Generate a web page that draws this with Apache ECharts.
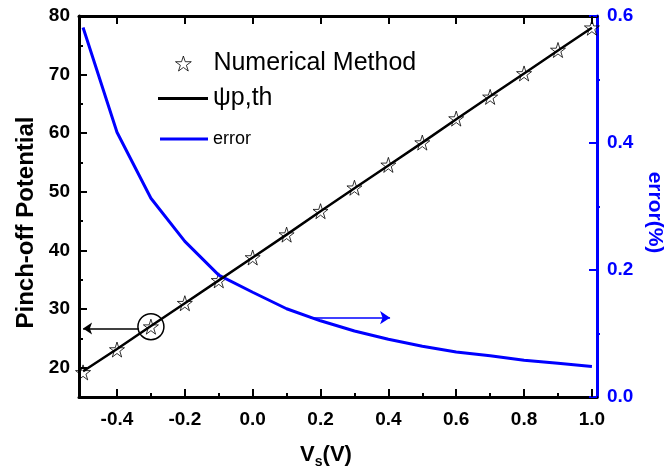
<!DOCTYPE html>
<html>
<head>
<meta charset="utf-8">
<script src="https://cdn.jsdelivr.net/npm/echarts@6/dist/echarts.min.js"></script>
<style>
  html, body { margin: 0; padding: 0; background: #fff; }
  #chart { width: 672px; height: 468px; }
</style>
</head>
<body>
<div id="chart"></div>
<script>
// source voltage Vs (V)
const vs = [-0.5, -0.4, -0.3, -0.2, -0.1, 0.0, 0.1, 0.2, 0.3, 0.4, 0.5, 0.6, 0.7, 0.8, 0.9, 1.0]
// pinch-off potential, numerical method (stars)
const numerical = [19.2, 23.1, 27.0, 31.0, 34.9, 38.8, 42.7, 46.7, 50.7, 54.6, 58.4, 62.5, 66.2, 70.2, 74.2, 78.0]
// pinch-off potential, analytical psi_p,th (line)
const theory = [19.4, 23.2, 27.1, 31.0, 34.9, 38.8, 42.7, 46.7, 50.6, 54.5, 58.4, 62.4, 66.3, 70.2, 74.1, 78.0]
// error between them (%)
const errorPct = [0.582, 0.417, 0.313, 0.245, 0.192, 0.165, 0.139, 0.120, 0.104, 0.091, 0.080, 0.071, 0.065, 0.058, 0.053, 0.048]

// tick labels
const xTicks = [-0.4, -0.2, 0.0, 0.2, 0.4, 0.6, 0.8, 1.0]
const xMinor = [-0.3, -0.1, 0.1, 0.3, 0.5, 0.7, 0.9]
const yTicks = [20, 30, 40, 50, 60, 70, 80]
const yMinor = [25, 35, 45, 55, 65, 75]
const errTicks = [0.0, 0.2, 0.4, 0.6]
const errMinor = [0.1, 0.3, 0.5]

// annotations: circled point and the two arrows
const circled = [-0.3, 27.0]
const blackArrow = [[-0.335, 26.7], [-0.5, 26.7]]
const blueArrow = [[0.17, 0.125], [0.405, 0.125]]

const BLUE = '#0000ff'
const FONT = 'Liberation Sans, Arial, sans-serif'
const STAR = 'path://M50,0 L61.2,34.5 L97.6,34.5 L68.2,55.9 L79.4,90.5 L50,69.1 L20.6,90.5 L31.8,55.9 L2.4,34.5 L38.8,34.5 Z'
const X_RANGE = { min: -0.512, max: 1.015 }
const Y_RANGE = { min: 15, max: 80 }
const ERR_RANGE = { min: 0, max: 0.6 }

const zip = (xs, ys) => xs.map((x, i) => [x, ys[i]])

// fresh objects each time, echarts merges defaults into option objects
const hidden = () => ({ show: false })
const solidLine = color => ({ show: true, onZero: false, lineStyle: { color: color, width: 3 } })
const tickLabel = (values, margin, color, formatter) => ({
  customValues: values, margin: margin,
  fontSize: 19, fontWeight: 'bold', color: color, fontFamily: FONT,
  formatter: formatter
})

// axis that only carries a set of ticks (major or minor)
const tickAxis = (position, range, values, length, color, inside) => Object.assign({
  type: 'value', position: position,
  axisLine: { show: false, onZero: false },
  axisTick: { show: true, inside: inside, length: length, lineStyle: { width: 2, color: color }, customValues: values },
  axisLabel: hidden(),
  splitLine: hidden()
}, range)

const chart = echarts.init(document.getElementById('chart'))

chart.setOption({
  animation: false,
  backgroundColor: '#fff',
  textStyle: { fontFamily: FONT },
  grid: { left: 79, right: 75, top: 16, bottom: 71, outerBoundsMode: 'none', containLabel: false },
  legend: [
    {
      data: [{ name: 'Numerical Method', icon: STAR }],
      left: 173, top: 51, padding: 0,
      itemWidth: 50, itemHeight: 15,
      itemStyle: { color: 'none', borderColor: '#000', borderWidth: 1 },
      textStyle: { fontSize: 25, color: '#000', fontFamily: FONT },
      selectedMode: false
    },
    {
      data: [{ name: 'ψp,th', icon: 'rect' }],
      left: 158, top: 86, padding: 0,
      itemWidth: 50, itemHeight: 3,
      itemStyle: { color: '#000', borderWidth: 0 },
      textStyle: { fontSize: 25, color: '#000', fontFamily: FONT },
      selectedMode: false
    },
    {
      data: [{ name: 'error', icon: 'rect' }],
      left: 160, top: 130, padding: 0,
      itemWidth: 48, itemHeight: 3,
      itemStyle: { color: BLUE, borderWidth: 0 },
      textStyle: { fontSize: 18, color: '#000', fontFamily: FONT },
      selectedMode: false
    }
  ],
  xAxis: [
    Object.assign({
      type: 'value', position: 'bottom',
      name: '{v|V}{s|s}{v|(V)}',
      nameLocation: 'middle', nameGap: 44,
      nameTextStyle: {
        padding: [0, 24, 0, 0],
        rich: {
          v: { fontSize: 22, fontWeight: 'bold', color: '#000', fontFamily: FONT },
          s: { fontSize: 14, fontWeight: 'bold', color: '#000', fontFamily: FONT, padding: [14, 0, 0, 0] }
        }
      },
      axisLine: solidLine('#000'),
      axisTick: hidden(),
      axisLabel: tickLabel(xTicks, 13, '#000', v => v.toFixed(1)),
      splitLine: hidden()
    }, X_RANGE),
    Object.assign({
      type: 'value', position: 'top',
      axisLine: solidLine('#000'),
      axisTick: hidden(),
      axisLabel: hidden(),
      splitLine: hidden()
    }, X_RANGE),
    tickAxis('bottom', X_RANGE, xTicks, 8, '#000', true),
    tickAxis('bottom', X_RANGE, xMinor, 4, '#000', true),
    tickAxis('top', X_RANGE, xTicks, 8, '#000', true)
  ],
  yAxis: [
    Object.assign({
      type: 'value', position: 'left',
      name: 'Pinch-off Potential',
      nameLocation: 'middle', nameGap: 41,
      nameTextStyle: { fontSize: 24, fontWeight: 'bold', color: '#000', fontFamily: FONT, padding: [0, 32, 0, 0] },
      axisLine: solidLine('#000'),
      axisTick: hidden(),
      axisLabel: tickLabel(yTicks, 9, '#000'),
      splitLine: hidden()
    }, Y_RANGE),
    Object.assign({
      type: 'value', position: 'right',
      name: 'error(%)',
      nameLocation: 'middle', nameGap: 34, nameRotate: -90,
      nameTextStyle: { fontSize: 21, fontWeight: 'bold', color: BLUE, fontFamily: FONT, padding: [0, 0, 0, 12] },
      axisLine: solidLine(BLUE),
      axisTick: hidden(),
      axisLabel: tickLabel(errTicks, 10, BLUE, v => v.toFixed(1)),
      splitLine: hidden()
    }, ERR_RANGE),
    tickAxis('left', Y_RANGE, yTicks, 8, '#000', true),
    tickAxis('left', Y_RANGE, yMinor, 4, '#000', true),
    tickAxis('right', ERR_RANGE, errTicks, 8, BLUE, true),
    tickAxis('right', ERR_RANGE, errMinor, 3, BLUE, false)
  ],
  series: [
    {
      name: 'error',
      type: 'line',
      xAxisIndex: 0, yAxisIndex: 1,
      data: zip(vs, errorPct),
      showSymbol: false,
      lineStyle: { color: BLUE, width: 3 },
      itemStyle: { color: BLUE },
      markLine: {
        silent: true,
        symbol: ['none', 'arrow'], symbolSize: 10,
        label: { show: false },
        lineStyle: { color: BLUE, width: 1.5, type: 'solid' },
        data: [[{ coord: blueArrow[0] }, { coord: blueArrow[1] }]]
      }
    },
    {
      name: 'ψp,th',
      type: 'line',
      xAxisIndex: 0, yAxisIndex: 0,
      data: zip(vs, theory),
      showSymbol: false,
      lineStyle: { color: '#000', width: 2.5 },
      itemStyle: { color: '#000' },
      markLine: {
        silent: true,
        symbol: ['none', 'arrow'], symbolSize: 9,
        label: { show: false },
        lineStyle: { color: '#000', width: 1.5, type: 'solid' },
        data: [[{ coord: blackArrow[0] }, { coord: blackArrow[1] }]]
      }
    },
    {
      name: 'Numerical Method',
      type: 'scatter',
      xAxisIndex: 0, yAxisIndex: 0,
      data: zip(vs, numerical),
      symbol: STAR,
      symbolSize: 15,
      itemStyle: { color: 'none', borderColor: '#000', borderWidth: 1 },
      markPoint: {
        silent: true,
        symbol: 'circle', symbolSize: 26,
        label: { show: false },
        itemStyle: { color: 'none', borderColor: '#000', borderWidth: 1.5 },
        data: [{ coord: circled }]
      }
    }
  ]
})
</script>
</body>
</html>
